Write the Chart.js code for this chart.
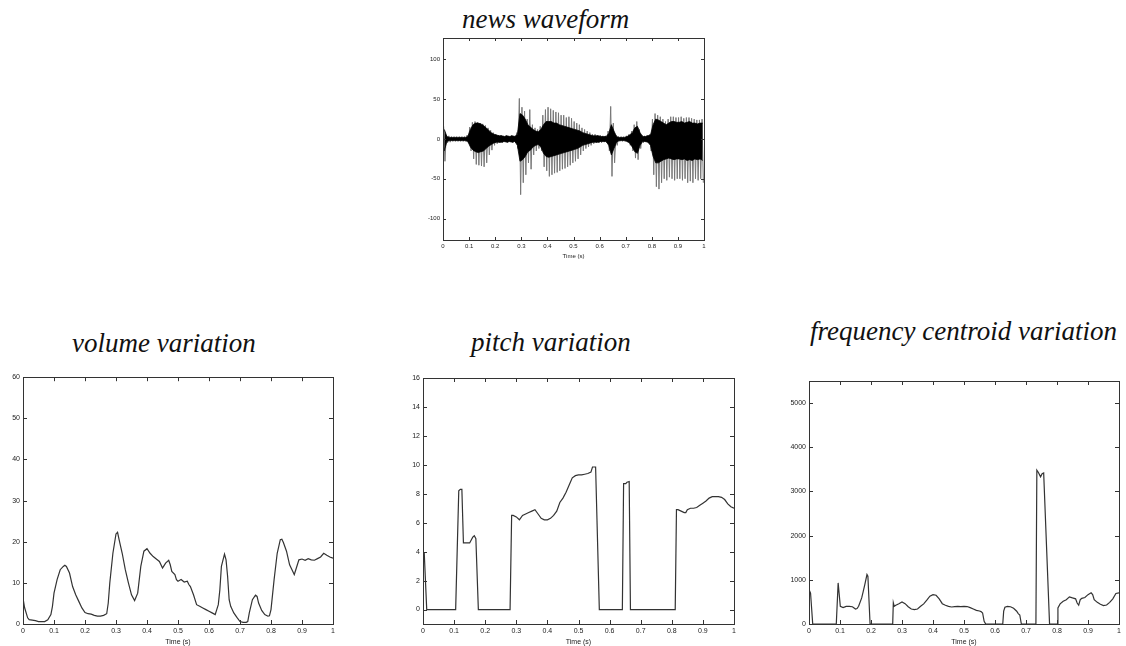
<!DOCTYPE html>
<html>
<head>
<meta charset="utf-8">
<title>speech features</title>
<script src="https://cdn.jsdelivr.net/npm/chart.js@4.4.1/dist/chart.umd.min.js"></script>
<style>
  body { margin: 0; background: #fff; width: 1126px; height: 646px; position: relative; overflow: hidden; }
  canvas { position: absolute; }
  .caption { position: absolute; font-family: 'Liberation Serif', 'Times New Roman', serif; font-style: italic;
             font-size: 27px; line-height: 27px; color: #111; white-space: nowrap; }
</style>
</head>
<body>
<div class="caption" style="left:462px;top:6px">news waveform</div>
<div class="caption" style="left:72px;top:330px">volume variation</div>
<div class="caption" style="left:471px;top:329px">pitch variation</div>
<div class="caption" style="left:810px;top:318px">frequency centroid variation</div>

<canvas id="wave" width="320" height="240" style="left:400px;top:30px"></canvas>
<canvas id="volume" width="345" height="276" style="left:0px;top:370px"></canvas>
<canvas id="pitch" width="345" height="276" style="left:400px;top:370px"></canvas>
<canvas id="centroid" width="346" height="276" style="left:780px;top:370px"></canvas>

<script>
// tick positions
var timeTicks = [0, 0.1, 0.2, 0.3, 0.4, 0.5, 0.6, 0.7, 0.8, 0.9, 1];
var waveTicks = [-100, -50, 0, 50, 100];
var volTicks = [0, 10, 20, 30, 40, 50, 60];
var pitchTicks = [0, 2, 4, 6, 8, 10, 12, 14, 16];
var centTicks = [0, 1000, 2000, 3000, 4000, 5000];

// waveform, one 10 ms bin per entry: spike extremes and the dense core
var spikeHi = [16, 5, 4, 3, 3, 3, 3, 3, 3, 5,
  15, 21, 22, 21, 20, 19, 17, 14, 11, 8,
  6, 5, 5, 4, 5, 4, 5, 4, 8, 51,
  40, 35, 25, 37, 18, 14, 12, 16, 30, 37,
  40, 38, 36, 34, 33, 30, 30, 27, 28, 26,
  22, 20, 18, 14, 12, 10, 8, 6, 6, 5,
  5, 4, 4, 10, 41, 20, 5, 3, 3, 3,
  4, 6, 10, 18, 22, 12, 5, 4, 5, 6,
  25, 32, 30, 28, 25, 22, 25, 28, 28, 27,
  27, 28, 26, 27, 27, 26, 25, 24, 24, 25];
var spikeLo = [-28, -5, -4, -3, -3, -3, -3, -3, -3, -5,
  -15, -25, -32, -33, -34, -35, -30, -20, -14, -8,
  -6, -5, -5, -4, -5, -4, -5, -4, -12, -70,
  -55, -45, -30, -38, -20, -15, -12, -15, -35, -40,
  -47, -45, -43, -42, -40, -38, -37, -35, -33, -30,
  -28, -25, -20, -15, -12, -10, -8, -6, -5, -5,
  -5, -4, -5, -15, -47, -30, -8, -3, -3, -3,
  -4, -8, -15, -24, -26, -12, -5, -4, -5, -15,
  -45, -60, -63, -55, -50, -52, -48, -50, -52, -50,
  -50, -52, -50, -55, -53, -55, -50, -52, -50, -55];
var coreHi = [12, 3, 2, 2, 2, 2, 2, 2, 2, 3,
  12, 18, 20, 20, 19, 17, 14, 11, 8, 6,
  5, 4, 4, 3, 4, 3, 4, 3, 6, 32,
  30, 25, 18, 15, 12, 10, 9, 12, 18, 22,
  22, 22, 20, 20, 18, 17, 16, 15, 14, 13,
  12, 11, 10, 8, 7, 6, 5, 4, 4, 4,
  3, 3, 3, 7, 18, 10, 3, 2, 2, 2,
  3, 5, 8, 14, 16, 8, 3, 3, 4, 5,
  18, 25, 24, 22, 20, 18, 20, 22, 22, 21,
  21, 22, 20, 21, 22, 20, 20, 19, 20, 20];
var coreLo = [-15, -3, -2, -2, -2, -2, -2, -2, -2, -3,
  -10, -14, -16, -17, -16, -15, -12, -9, -7, -5,
  -4, -4, -4, -3, -4, -3, -4, -3, -8, -28,
  -26, -22, -16, -14, -10, -8, -7, -10, -18, -22,
  -23, -22, -21, -20, -19, -18, -17, -16, -15, -14,
  -13, -12, -10, -8, -7, -6, -5, -4, -4, -4,
  -3, -3, -3, -8, -20, -12, -4, -2, -2, -2,
  -3, -5, -10, -16, -18, -8, -3, -3, -4, -8,
  -22, -30, -30, -28, -26, -25, -24, -25, -26, -25,
  -25, -26, -25, -27, -26, -27, -25, -26, -25, -27];

// short-time volume
var volT = [0, 0.005, 0.015, 0.02, 0.04, 0.05, 0.07, 0.08, 0.09, 0.095,
  0.1, 0.11, 0.12, 0.13, 0.135, 0.14, 0.15, 0.16, 0.17, 0.18,
  0.19, 0.2, 0.21, 0.22, 0.23, 0.24, 0.25, 0.26, 0.27, 0.275,
  0.28, 0.29, 0.3, 0.305, 0.31, 0.32, 0.33, 0.34, 0.35, 0.36,
  0.37, 0.38, 0.39, 0.4, 0.41, 0.42, 0.43, 0.44, 0.45, 0.455,
  0.46, 0.47, 0.475, 0.48, 0.49, 0.495, 0.5, 0.51, 0.52, 0.53,
  0.535, 0.54, 0.55, 0.56, 0.57, 0.58, 0.59, 0.6, 0.61, 0.62,
  0.625, 0.63, 0.635, 0.64, 0.65, 0.655, 0.66, 0.665, 0.67, 0.68,
  0.69, 0.7, 0.71, 0.72, 0.725, 0.73, 0.74, 0.75, 0.755, 0.76,
  0.77, 0.78, 0.79, 0.795, 0.8, 0.81, 0.82, 0.83, 0.835, 0.84,
  0.85, 0.86, 0.87, 0.875, 0.88, 0.89, 0.9, 0.91, 0.92, 0.93,
  0.94, 0.95, 0.96, 0.97, 0.98, 0.99, 1];
var volV = [6.3, 4, 1.5, 1.05, 0.8, 0.6, 0.6, 1, 2.3, 4.3,
  7.5, 10.8, 13.2, 14, 14.3, 14, 12.4, 9.1, 7.1, 5.5,
  3.9, 2.8, 2.5, 2.4, 2.1, 1.9, 1.9, 2.1, 2.5, 5.1,
  10, 17.2, 21.9, 22.3, 20.5, 17.2, 13.2, 10, 7.1, 5.7,
  7.5, 14, 17.7, 18.3, 17.2, 16.4, 15.8, 15.2, 13.6, 14.2,
  14.8, 15.5, 14.4, 12.8, 12, 10.8, 10.4, 10.8, 10.2, 10.4,
  9.6, 9.1, 7.1, 4.7, 4.3, 3.9, 3.5, 3.1, 2.7, 2.3,
  3.5, 4.7, 8.3, 14, 17, 15.6, 11.6, 5.9, 4.3, 2.7,
  1.6, 0.6, 0.4, 0.4, 0.6, 2.7, 5.9, 7, 6.7, 5.1,
  3.3, 2.3, 1.9, 2, 3.5, 10.8, 17.2, 20.5, 20.6, 19.8,
  17.7, 14.4, 12.8, 12, 13.2, 15.6, 15.8, 15.5, 15.9, 15.6,
  15.5, 15.9, 16.3, 17.2, 16.7, 16.3, 16];

// pitch track (0 = unvoiced)
var pitchT = [0, 0.004, 0.012, 0.105, 0.115, 0.12, 0.125, 0.13, 0.15, 0.16,
  0.165, 0.17, 0.178, 0.28, 0.285, 0.29, 0.3, 0.31, 0.32, 0.33,
  0.34, 0.35, 0.36, 0.37, 0.38, 0.39, 0.4, 0.41, 0.42, 0.43,
  0.44, 0.45, 0.46, 0.47, 0.48, 0.49, 0.5, 0.51, 0.52, 0.53,
  0.54, 0.545, 0.555, 0.567, 0.641, 0.645, 0.652, 0.656, 0.663, 0.667,
  0.811, 0.815, 0.82, 0.83, 0.84, 0.845, 0.85, 0.86, 0.87, 0.88,
  0.89, 0.9, 0.91, 0.92, 0.93, 0.94, 0.95, 0.96, 0.97, 0.98,
  0.99, 1];
var pitchV = [4, 3.9, 0, 0, 8.2, 8.3, 8.3, 4.6, 4.6, 5.0,
  5.1, 4.9, 0, 0, 6.5, 6.5, 6.4, 6.2, 6.5, 6.6,
  6.7, 6.8, 6.9, 6.6, 6.3, 6.2, 6.2, 6.3, 6.5, 6.8,
  7.4, 7.7, 8.1, 8.6, 9.1, 9.25, 9.3, 9.3, 9.35, 9.4,
  9.5, 9.85, 9.85, 0, 0, 8.7, 8.7, 8.8, 8.85, 0,
  0, 6.9, 6.9, 6.8, 6.7, 6.7, 6.9, 7.0, 7.0, 7.05,
  7.2, 7.35, 7.5, 7.7, 7.8, 7.8, 7.8, 7.75, 7.6, 7.3,
  7.1, 7.0];

// frequency centroid
var centT = [0, 0.005, 0.012, 0.088, 0.094, 0.101, 0.11, 0.12, 0.13, 0.14,
  0.15, 0.155, 0.16, 0.17, 0.175, 0.18, 0.187, 0.19, 0.197, 0.27,
  0.272, 0.275, 0.28, 0.29, 0.3, 0.31, 0.32, 0.33, 0.34, 0.35,
  0.36, 0.37, 0.38, 0.39, 0.4, 0.41, 0.42, 0.43, 0.44, 0.45,
  0.46, 0.47, 0.48, 0.49, 0.5, 0.51, 0.52, 0.53, 0.54, 0.55,
  0.555, 0.56, 0.565, 0.57, 0.625, 0.628, 0.632, 0.64, 0.65, 0.66,
  0.67, 0.675, 0.68, 0.685, 0.732, 0.735, 0.74, 0.747, 0.752, 0.757,
  0.776, 0.8, 0.803, 0.81, 0.82, 0.83, 0.84, 0.85, 0.86, 0.865,
  0.87, 0.875, 0.88, 0.89, 0.9, 0.91, 0.915, 0.92, 0.93, 0.94,
  0.95, 0.96, 0.97, 0.98, 0.99, 1];
var centV = [780, 700, 0, 0, 930, 400, 370, 400, 400, 390,
  340, 350, 400, 590, 740, 890, 1120, 1080, 0, 0,
  480, 400, 425, 460, 500, 460, 390, 340, 325, 340,
  400, 455, 540, 630, 665, 650, 570, 460, 425, 400,
  385, 395, 400, 395, 400, 395, 370, 340, 310, 295,
  280, 250, 60, 0, 0, 290, 380, 400, 390, 355,
  290, 235, 205, 0, 0, 3480, 3430, 3330, 3400, 3420,
  0, 0, 365, 455, 515, 550, 615, 590, 570, 475,
  425, 550, 580, 600, 665, 705, 665, 550, 490, 445,
  415, 430, 490, 570, 690, 705];

Chart.defaults.font.family = "'Liberation Sans', Arial, sans-serif";
Chart.defaults.color = '#222';

function xy(ts, vs) {
  return ts.map(function (t, i) { return { x: t, y: vs[i] }; });
}

// frame round the plot area with inward ticks on all four sides
var boxFrame = {
  id: 'boxFrame',
  afterDatasetsDraw: function (chart, args, opts) {
    var ctx = chart.ctx, a = chart.chartArea, len = opts.len || 4;
    var x = chart.scales.x, y = chart.scales.y;
    ctx.save();
    ctx.strokeStyle = '#333';
    ctx.lineWidth = 1;
    ctx.beginPath();
    x.ticks.forEach(function (t) {
      var px = Math.round(x.getPixelForValue(t.value)) + 0.5;
      ctx.moveTo(px, a.bottom); ctx.lineTo(px, a.bottom - len);
      ctx.moveTo(px, a.top); ctx.lineTo(px, a.top + len);
    });
    y.ticks.forEach(function (t) {
      var py = Math.round(y.getPixelForValue(t.value)) + 0.5;
      ctx.moveTo(a.left, py); ctx.lineTo(a.left + len, py);
      ctx.moveTo(a.right, py); ctx.lineTo(a.right - len, py);
    });
    ctx.stroke();
    ctx.strokeRect(Math.round(a.left) + 0.5, Math.round(a.top) + 0.5,
      Math.round(a.right - a.left), Math.round(a.bottom - a.top));
    ctx.restore();
  }
};

function options(o) {
  return {
    responsive: false,
    animation: false,
    events: [],
    layout: { padding: o.pad },
    plugins: { legend: { display: false }, tooltip: { enabled: false }, boxFrame: { len: o.len } },
    scales: {
      x: {
        type: 'linear', min: 0, max: 1,
        grid: { display: false, drawTicks: false },
        border: { display: false },
        afterBuildTicks: function (s) { s.ticks = timeTicks.map(function (v) { return { value: v }; }); },
        afterFit: function (s) { s.height = o.xh; },
        ticks: {
          font: { size: o.fs }, padding: 3, maxRotation: 0, autoSkip: false,
          callback: function (v) { return String(Math.round(v * 10) / 10); }
        },
        title: { display: true, text: 'Time (s)', font: { size: o.fs }, padding: { top: 0, bottom: o.tb } }
      },
      y: {
        type: 'linear', min: o.min, max: o.max,
        grid: { display: false, drawTicks: false },
        border: { display: false },
        afterBuildTicks: function (s) { s.ticks = o.ticks.map(function (v) { return { value: v }; }); },
        afterFit: function (s) { s.width = o.yw; },
        ticks: { font: { size: o.fs }, padding: 3, autoSkip: false, callback: function (v) { return String(v); } }
      }
    }
  };
}

function curve(ts, vs) {
  return {
    type: 'line',
    data: { datasets: [{ data: xy(ts, vs), borderColor: '#333', borderWidth: 1.2, pointRadius: 0, fill: false, tension: 0 }] }
  };
}

// waveform: spikes zigzag between the bin extremes, core is a filled band
var spikes = [], coreTop = [], coreBottom = [];
spikeHi.forEach(function (v, i) {
  spikes.push({ x: i * 0.01 + 0.0025, y: v });
  spikes.push({ x: i * 0.01 + 0.0075, y: spikeLo[i] });
  coreTop.push({ x: i * 0.01 + 0.005, y: coreHi[i] });
  coreBottom.push({ x: i * 0.01 + 0.005, y: coreLo[i] });
});

new Chart(document.getElementById('wave'), {
  type: 'line',
  data: {
    datasets: [
      { data: coreTop, borderColor: '#000', backgroundColor: '#000', borderWidth: 0.8, pointRadius: 0, fill: '+1' },
      { data: coreBottom, borderColor: '#000', borderWidth: 0.8, pointRadius: 0, fill: false },
      { data: spikes, borderColor: '#777', borderWidth: 1, pointRadius: 0, fill: false }
    ]
  },
  options: options({ min: -127, max: 127, ticks: waveTicks, yw: 43, xh: 30, fs: 6, tb: 10, len: 3,
    pad: { left: 0, top: 8, right: 16, bottom: 0 } }),
  plugins: [boxFrame]
});

var volChart = curve(volT, volV);
volChart.options = options({ min: 0, max: 60, ticks: volTicks, yw: 23, xh: 22, fs: 7, tb: 0, len: 4,
  pad: { left: 0, top: 7, right: 12, bottom: 0 } });
volChart.plugins = [boxFrame];
new Chart(document.getElementById('volume'), volChart);

var pitchChart = curve(pitchT, pitchV);
pitchChart.options = options({ min: -1, max: 16, ticks: pitchTicks, yw: 23, xh: 22, fs: 7, tb: 0, len: 4,
  pad: { left: 0, top: 8, right: 11, bottom: 0 } });
pitchChart.plugins = [boxFrame];
new Chart(document.getElementById('pitch'), pitchChart);

var centChart = curve(centT, centV);
centChart.options = options({ min: 0, max: 5500, ticks: centTicks, yw: 29, xh: 22, fs: 7, tb: 0, len: 4,
  pad: { left: 0, top: 11, right: 7, bottom: 0 } });
centChart.plugins = [boxFrame];
new Chart(document.getElementById('centroid'), centChart);
</script>
</body>
</html>
